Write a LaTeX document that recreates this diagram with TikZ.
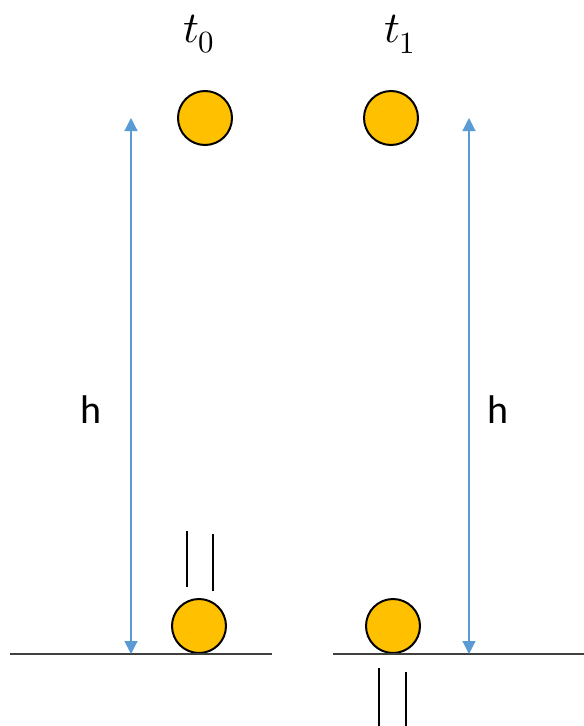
\documentclass[tikz,border=0pt]{standalone}
\usepackage{fontspec}
\usepackage{unicode-math}
\setmathfont{Latin Modern Math}
\newfontfamily\calibri{Carlito}
\usetikzlibrary{arrows.meta}
\definecolor{ballfill}{HTML}{FFC000}
\definecolor{arrowblue}{HTML}{5B9BD5}
\definecolor{groundgray}{HTML}{404040}
\tikzset{
	ball/.style={circle, draw=black, line width=2pt, fill=ballfill, minimum size=54pt, inner sep=0pt},
	height/.style={arrowblue, line width=1.2pt, {Triangle[width=13pt,length=13pt]}-{Triangle[width=13pt,length=13pt]}},
	ground/.style={groundgray, line width=1.5pt},
	motion/.style={black, line width=1.1pt},
	hlabel/.style={font=\calibri\fontsize{40}{40}\selectfont},
	tlabel/.style={font=\fontsize{44}{44}\selectfont}
}
\begin{document}
\begin{tikzpicture}[x=1pt, y=-1pt, line cap=butt]
		\useasboundingbox (0,0) rectangle (584,726);
		% time labels
		\node[tlabel] (tzero) at (199,34) {$t_0$};
		\node[tlabel] (tone) at (400,34) {$t_1$};
		% balls
		\node[ball] (topL) at (205,118) {};
		\node[ball] (topR) at (391,118) {};
		\node[ball] (botL) at (199,626) {};
		\node[ball] (botR) at (393,626) {};
		% ground
		\coordinate (gL1) at (10,654); \coordinate (gL2) at (272,654);
		\coordinate (gR1) at (333,654); \coordinate (gR2) at (584,654);
		\draw[ground] (gL1)--(gL2);
		\draw[ground] (gR1)--(gR2);
		% heights
		\coordinate (hLtop) at (131,118); \coordinate (hLbot) at (131,654);
		\coordinate (hRtop) at (469,118); \coordinate (hRbot) at (469,654);
		\draw[height] (hLbot)--(hLtop);
		\draw[height] (hRbot)--(hRtop);
		\node[hlabel] (hL) at (91,410) {h};
		\node[hlabel] (hR) at (498,410) {h};
		% motion lines
		\draw[motion] (187,531)--(187,587) (213,534)--(213,591);
		\draw[motion] (379,668)--(379,726) (406,672)--(406,726);
\end{tikzpicture}
\end{document}
